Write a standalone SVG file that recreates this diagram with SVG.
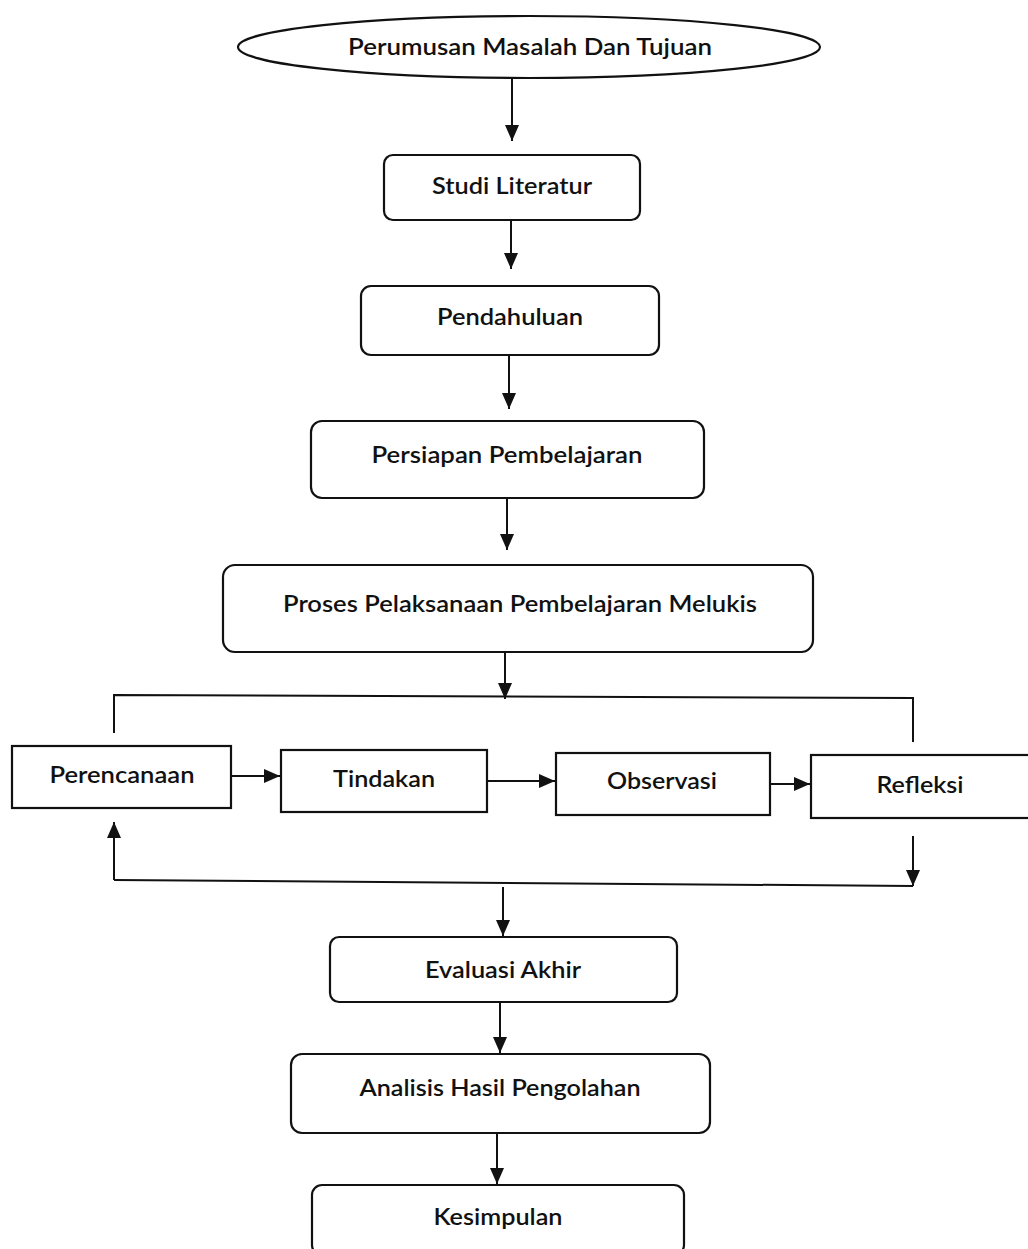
<svg xmlns="http://www.w3.org/2000/svg" width="1028" height="1249" viewBox="0 0 1028 1249">
<style>
.box{fill:#fff;stroke:#111;stroke-width:2.2}
.t{font-family:Lato,"Open Sans","Liberation Sans",sans-serif;font-size:22px;fill:#111;text-anchor:middle;font-weight:600}
.c{fill:none;stroke:#111;stroke-width:2}
</style>
<defs>
<marker id="ah" markerUnits="userSpaceOnUse" markerWidth="18" markerHeight="16" refX="16" refY="7" orient="auto">
<path d="M0,0 L16,7 L0,14 Z" fill="#111"/>
</marker>
</defs>
<rect width="1028" height="1249" fill="#fff"/>
<g id="connectors">
<line class="c" x1="512" y1="78" x2="512" y2="141" marker-end="url(#ah)"/>
<line class="c" x1="511" y1="221" x2="511" y2="269" marker-end="url(#ah)"/>
<line class="c" x1="509" y1="356" x2="509" y2="409" marker-end="url(#ah)"/>
<line class="c" x1="507" y1="499" x2="507" y2="550" marker-end="url(#ah)"/>
<line class="c" x1="505" y1="652" x2="505" y2="699" marker-end="url(#ah)"/>
<polyline class="c" points="114,733 114,695 913,698 913,742"/>
<line class="c" x1="231" y1="776" x2="280" y2="776" marker-end="url(#ah)"/>
<line class="c" x1="487" y1="781" x2="555" y2="781" marker-end="url(#ah)"/>
<line class="c" x1="770" y1="784" x2="810" y2="784" marker-end="url(#ah)"/>
<line class="c" x1="913" y1="836" x2="913" y2="886" marker-end="url(#ah)"/>
<line class="c" x1="114" y1="880" x2="913" y2="886"/>
<line class="c" x1="114" y1="880" x2="114" y2="822" marker-end="url(#ah)"/>
<line class="c" x1="503" y1="887" x2="503" y2="936" marker-end="url(#ah)"/>
<line class="c" x1="500" y1="1002" x2="500" y2="1053" marker-end="url(#ah)"/>
<line class="c" x1="497" y1="1133" x2="497" y2="1184" marker-end="url(#ah)"/>
</g>
<g id="n-perumusan">
<ellipse class="box" cx="529" cy="47" rx="291" ry="31"/>
<text class="t" x="530" y="55" textLength="364" lengthAdjust="spacingAndGlyphs">Perumusan Masalah Dan Tujuan</text>
</g>
<g id="n-studi">
<rect class="box" x="384" y="155" width="256" height="65" rx="9"/>
<text class="t" x="512" y="194" textLength="160" lengthAdjust="spacingAndGlyphs">Studi Literatur</text>
</g>
<g id="n-pendahuluan">
<rect class="box" x="361" y="286" width="298" height="69" rx="10"/>
<text class="t" x="510" y="325" textLength="146" lengthAdjust="spacingAndGlyphs">Pendahuluan</text>
</g>
<g id="n-persiapan">
<rect class="box" x="311" y="421" width="393" height="77" rx="11"/>
<text class="t" x="507" y="463" textLength="271" lengthAdjust="spacingAndGlyphs">Persiapan Pembelajaran</text>
</g>
<g id="n-proses">
<rect class="box" x="223" y="565" width="590" height="87" rx="12"/>
<text class="t" x="520" y="612" textLength="474" lengthAdjust="spacingAndGlyphs">Proses Pelaksanaan Pembelajaran Melukis</text>
</g>
<g id="n-perencanaan">
<rect class="box" x="12" y="746" width="219" height="62"/>
<text class="t" x="122" y="783" textLength="145" lengthAdjust="spacingAndGlyphs">Perencanaan</text>
</g>
<g id="n-tindakan">
<rect class="box" x="281" y="750" width="206" height="62"/>
<text class="t" x="384" y="787" textLength="102" lengthAdjust="spacingAndGlyphs">Tindakan</text>
</g>
<g id="n-observasi">
<rect class="box" x="556" y="753" width="214" height="62"/>
<text class="t" x="662" y="789" textLength="110" lengthAdjust="spacingAndGlyphs">Observasi</text>
</g>
<g id="n-refleksi">
<rect class="box" x="811" y="755" width="220" height="63"/>
<text class="t" x="920" y="793" textLength="87" lengthAdjust="spacingAndGlyphs">Refleksi</text>
</g>
<g id="n-evaluasi">
<rect class="box" x="330" y="937" width="347" height="65" rx="9"/>
<text class="t" x="503" y="978" textLength="156" lengthAdjust="spacingAndGlyphs">Evaluasi Akhir</text>
</g>
<g id="n-analisis">
<rect class="box" x="291" y="1054" width="419" height="79" rx="11"/>
<text class="t" x="500" y="1096" textLength="281" lengthAdjust="spacingAndGlyphs">Analisis Hasil Pengolahan</text>
</g>
<g id="n-kesimpulan">
<rect class="box" x="312" y="1185" width="372" height="70" rx="10"/>
<text class="t" x="498" y="1225" textLength="129" lengthAdjust="spacingAndGlyphs">Kesimpulan</text>
</g>
</svg>
